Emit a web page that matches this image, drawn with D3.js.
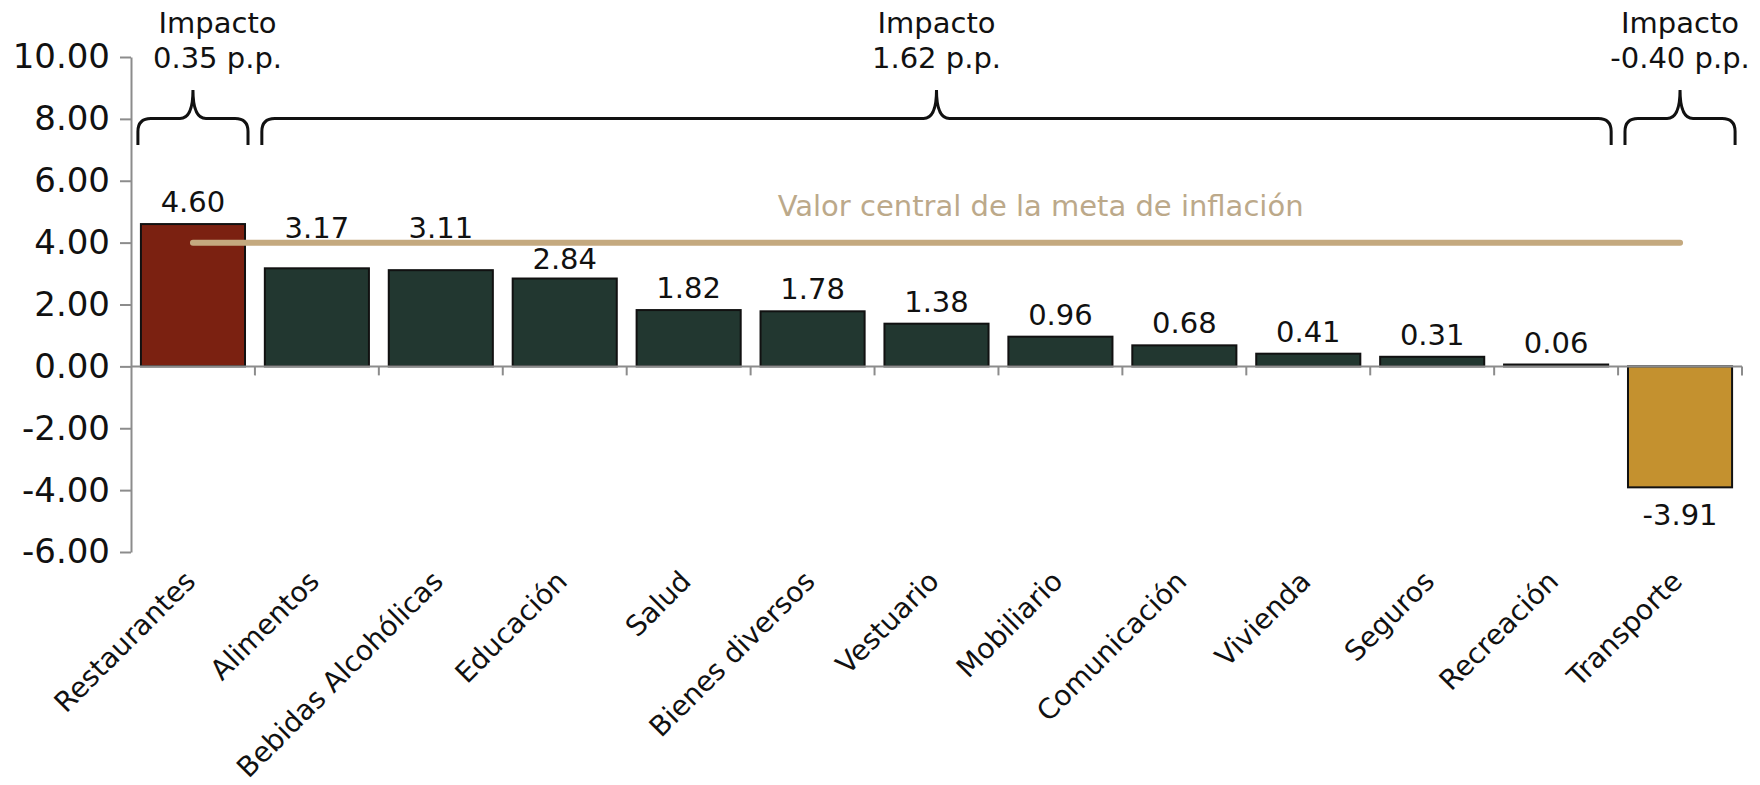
<!DOCTYPE html>
<html>
<head>
<meta charset="utf-8">
<script src="https://cdn.jsdelivr.net/npm/d3@7"></script>
<style>
  body { margin: 0; background: #fff; }
  text { font-family: "DejaVu Sans", sans-serif; font-size: 29px; }
</style>
</head>
<body>
<svg id="chart" width="1760" height="785"></svg>
<script>
const categories = ["Restaurantes", "Alimentos", "Bebidas Alcohólicas", "Educación", "Salud",
  "Bienes diversos", "Vestuario", "Mobiliario", "Comunicación", "Vivienda", "Seguros",
  "Recreación", "Transporte"];
const values = [4.60, 3.17, 3.11, 2.84, 1.82, 1.78, 1.38, 0.96, 0.68, 0.41, 0.31, 0.06, -3.91];
const yTicks = [-6, -4, -2, 0, 2, 4, 6, 8, 10];
const metaInflacion = 4;
const metaLabel = "Valor central de la meta de inflación";

// groups shown with a brace on top
const groupFrom = ["Restaurantes", "Alimentos", "Transporte"];
const groupTo = ["Restaurantes", "Recreación", "Transporte"];
const groupImpact = ["0.35", "1.62", "-0.40"];
const groupColors = ["#7b2111", "#223730", "#c4912f"];

const svg = d3.select("#chart");

const x = d3.scaleBand()
  .domain(categories)
  .range([131, 1742])
  .paddingInner(0.16)
  .paddingOuter(0.08);

const y = d3.scaleLinear()
  .domain([-6, 10])
  .range([552, 57]);

const bw = x.bandwidth();

function groupOf(c) {
  const i = categories.indexOf(c);
  for (let g = 0; g < groupFrom.length; g++) {
    if (i >= categories.indexOf(groupFrom[g]) && i <= categories.indexOf(groupTo[g])) return g;
  }
  return 1;
}

// y axis
const yAxis = svg.append("g")
  .attr("transform", "translate(" + x.range()[0] + ",0)")
  .call(d3.axisLeft(y)
    .tickValues(yTicks)
    .tickFormat(d => d.toFixed(2))
    .tickSize(11)
    .tickSizeOuter(0)
    .tickPadding(10));
yAxis.select(".domain").attr("stroke", "#8c8c8c").attr("stroke-width", 2);
yAxis.selectAll(".tick line").attr("stroke", "#8c8c8c").attr("stroke-width", 2);
yAxis.selectAll(".tick text").attr("fill", "#111").style("font-size", "34px").style("font-family", "DejaVu Sans");

// bars
svg.append("g").selectAll("rect")
  .data(categories)
  .enter()
  .append("rect")
  .attr("x", d => x(d))
  .attr("width", bw)
  .attr("y", (d, i) => y(Math.max(0, values[i])))
  .attr("height", (d, i) => Math.abs(y(values[i]) - y(0)))
  .attr("fill", d => groupColors[groupOf(d)])
  .attr("stroke", "#111")
  .attr("stroke-width", 2);

// x axis line with ticks at band boundaries
const x0 = x.range()[0], x1 = x.range()[1];
const xAxis = svg.append("g");
xAxis.append("line")
  .attr("x1", x0).attr("x2", x1)
  .attr("y1", y(0)).attr("y2", y(0))
  .attr("stroke", "#8c8c8c").attr("stroke-width", 2);
xAxis.selectAll(".btick")
  .data(d3.range(1, categories.length + 1))
  .enter()
  .append("line")
  .attr("x1", i => x0 + i * x.step())
  .attr("x2", i => x0 + i * x.step())
  .attr("y1", y(0))
  .attr("y2", y(0) + 9)
  .attr("stroke", "#8c8c8c").attr("stroke-width", 2);

// category labels
svg.append("g").selectAll("text")
  .data(categories)
  .enter()
  .append("text")
  .attr("text-anchor", "end")
  .attr("fill", "#111")
  .style("font-size", "28px")
  .attr("transform", d => "translate(" + (x(d) + bw / 2 + 4) + ",583)rotate(-45)")
  .text(d => d);

// target line
const lineY = y(metaInflacion);
const lx0 = x(categories[0]) + bw / 2;
const lx1 = x(categories[categories.length - 1]) + bw / 2;
svg.append("line")
  .attr("x1", lx0).attr("x2", lx1)
  .attr("y1", lineY).attr("y2", lineY)
  .attr("stroke", "#c4a97f")
  .attr("stroke-width", 6)
  .attr("stroke-linecap", "round");
svg.append("text")
  .attr("x", lx0 + 0.57 * (lx1 - lx0))
  .attr("y", 216)
  .attr("text-anchor", "middle")
  .attr("fill", "#bca98a")
  .text(metaLabel);

// value labels, moved off the target line when they would sit on it
const capH = 21;
function labelY(v) {
  if (v < 0) return y(v) + 38;
  const top = y(v);
  let b = top - 12;
  if (b > lineY - 4 && b - capH < lineY + 4) {
    const below = lineY + 4 + capH + 1;
    b = below <= top - 4 ? below : lineY - 5;
  }
  return b;
}
svg.append("g").selectAll("text")
  .data(categories)
  .enter()
  .append("text")
  .attr("x", d => x(d) + bw / 2)
  .attr("y", (d, i) => labelY(values[i]))
  .attr("text-anchor", "middle")
  .attr("fill", "#111")
  .text((d, i) => values[i].toFixed(2));

// braces and impact notes
const yl = 118.5, yb = 145, yp = 90, r = 13;
groupFrom.forEach((from, g) => {
  const bx0 = x(from) - 3;
  const bx1 = x(groupTo[g]) + bw + 3;
  const xm = (bx0 + bx1) / 2;
  const path = d3.path();
  path.moveTo(bx0, yb);
  path.lineTo(bx0, yl + r);
  path.quadraticCurveTo(bx0, yl, bx0 + r, yl);
  path.lineTo(xm - r, yl);
  path.quadraticCurveTo(xm, yl, xm, yp);
  path.quadraticCurveTo(xm, yl, xm + r, yl);
  path.lineTo(bx1 - r, yl);
  path.quadraticCurveTo(bx1, yl, bx1, yl + r);
  path.lineTo(bx1, yb);
  svg.append("path")
    .attr("d", path.toString())
    .attr("fill", "none")
    .attr("stroke", "#111")
    .attr("stroke-width", 3);

  const note = svg.append("text")
    .attr("text-anchor", "middle")
    .attr("fill", "#111");
  note.append("tspan").attr("x", xm).attr("y", 33).text("Impacto");
  note.append("tspan").attr("x", xm).attr("y", 68).text(groupImpact[g] + " p.p.");
  const half = note.node().getBBox().width / 2;
  const tx = Math.max(xm, x0 + 22 + half);
  note.selectAll("tspan").attr("x", tx);
});
</script>
</body>
</html>
